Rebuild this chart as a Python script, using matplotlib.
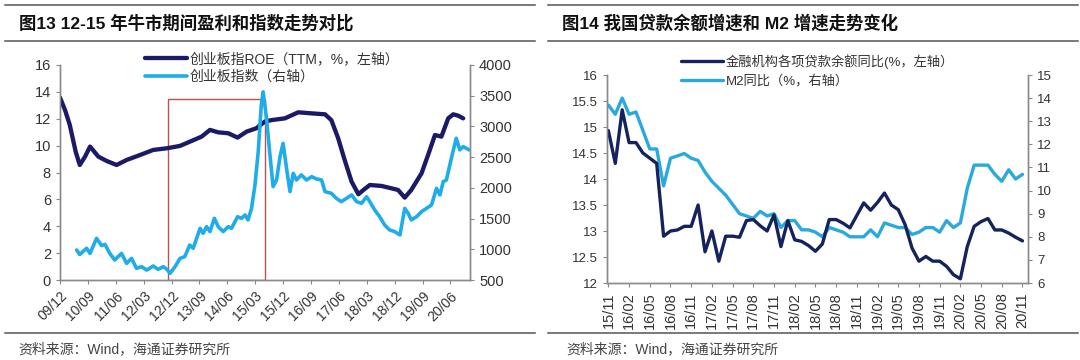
import matplotlib
matplotlib.use('Agg')
import matplotlib.pyplot as plt
from matplotlib.lines import Line2D
from matplotlib.patches import Rectangle
from matplotlib.ticker import FuncFormatter
import matplotlib.dates as mdates
import pandas as pd

plt.rcParams['font.family'] = ['Liberation Sans', 'Noto Sans CJK SC']

# ---------------- Left chart data ----------------
left_title = '图13 12-15 年牛市期间盈利和指数走势对比'
roe_label = '创业板指ROE（TTM，%，左轴）'
cyb_label = '创业板指数（右轴）'
roe_dates = ['2009-12-01', '2010-01-19', '2010-03-07', '2010-05-04', '2010-06-13', '2010-08-04',
             '2010-09-22', '2010-12-13', '2011-03-04', '2011-06-10', '2011-09-16', '2012-01-25',
             '2012-06-04', '2012-10-13', '2013-02-22', '2013-06-16', '2013-09-22', '2013-12-13',
             '2014-03-04', '2014-06-10', '2014-09-10', '2014-12-07', '2015-03-13', '2015-06-04',
             '2015-08-10', '2015-12-19', '2016-04-28', '2016-09-07', '2017-01-16', '2017-03-19',
             '2017-05-25', '2017-07-28', '2017-10-04', '2017-12-10', '2018-01-28', '2018-04-01',
             '2018-07-25', '2018-11-01', '2019-01-04', '2019-03-10', '2019-05-13', '2019-08-22',
             '2019-10-25', '2020-01-01', '2020-03-04', '2020-05-10', '2020-06-28', '2020-08-16',
             '2020-10-04']
roe_values = [13.57, 12.66, 11.54, 9.55, 8.56, 9.18, 9.93, 9.18, 8.86, 8.56, 8.93, 9.3,
              9.68, 9.8, 9.98, 10.35, 10.67, 11.17, 10.99, 10.92, 10.6, 11.04, 11.29, 11.79,
              11.9, 12.03, 12.48, 12.4, 12.33, 11.9, 10.55, 8.93, 7.32, 6.38, 6.7, 7.07,
              7.0, 6.82, 6.7, 6.13, 6.7, 7.94, 9.3, 10.79, 10.67, 12.03, 12.33, 12.23, 12.03]
cyb_dates = ['2010-05-13', '2010-06-13', '2010-08-19', '2010-09-22', '2010-11-25', '2011-01-13',
             '2011-02-16', '2011-04-04', '2011-05-22', '2011-07-28', '2011-09-16', '2011-11-04',
             '2011-12-22', '2012-02-10', '2012-04-01', '2012-06-04', '2012-07-22', '2012-09-10',
             '2012-10-13', '2012-11-16', '2013-01-04', '2013-02-22', '2013-04-10', '2013-05-28',
             '2013-07-01', '2013-09-07', '2013-10-07', '2013-11-10', '2013-12-13', '2014-01-25',
             '2014-03-04', '2014-04-22', '2014-06-10', '2014-07-13', '2014-09-10', '2014-10-19',
             '2014-11-22', '2014-12-22', '2015-01-25', '2015-02-28', '2015-04-01', '2015-05-01',
             '2015-05-19', '2015-06-22', '2015-07-22', '2015-08-25', '2015-09-28', '2015-11-01',
             '2015-12-01', '2016-01-04', '2016-02-07', '2016-03-10', '2016-04-10', '2016-05-28',
             '2016-07-19', '2016-09-07', '2016-10-25', '2016-12-13', '2017-01-16', '2017-03-19',
             '2017-05-07', '2017-06-25', '2017-08-16', '2017-10-04', '2017-11-22', '2018-01-10',
             '2018-02-28', '2018-04-01', '2018-05-19', '2018-07-07', '2018-08-25', '2018-10-13',
             '2018-12-01', '2019-01-22', '2019-03-10', '2019-04-13', '2019-05-13', '2019-07-04',
             '2019-08-22', '2019-10-10', '2019-11-28', '2020-01-16', '2020-02-19', '2020-03-22',
             '2020-04-22', '2020-06-10', '2020-07-28', '2020-09-01', '2020-10-04', '2020-11-04',
             '2020-12-01']
cyb_values = [988, 916, 1016, 933, 1178, 1060,
              1080, 933, 826, 933, 771, 852,
              690, 717, 662, 728, 673, 717,
              679, 609, 717, 852, 881, 1069,
              1016, 1342, 1259, 1368, 1288, 1504,
              1368, 1288, 1368, 1342, 1530, 1504,
              1559, 1478, 1666, 2047, 2589, 3350,
              3563, 3125, 2589, 2020, 2128, 2508,
              2725, 2318, 1939, 2237, 2128, 2211,
              2128, 2182, 2145, 2128, 1939, 1911,
              1830, 1775, 1830, 1885, 1775, 1749,
              1856, 1775, 1640, 1530, 1395, 1314,
              1288, 1233, 1666, 1585, 1478, 1530,
              1613, 1666, 1721, 1992, 1885, 2101,
              2128, 2482, 2808, 2618, 2672, 2644,
              2618]
left_tick_labels = ['09/12', '10/09', '11/06', '12/03', '12/12', '13/09', '14/06', '15/03',
                    '15/12', '16/09', '17/06', '18/03', '18/12', '19/09', '20/06']
box_start, box_end, box_top = '2012-10-22', '2015-06-10', 13.47

# ---------------- Right chart data ----------------
right_title = '图14 我国贷款余额增速和 M2 增速走势变化'
loan_label = '金融机构各项贷款余额同比(%，左轴）'
m2_label = 'M2同比（%，右轴）'
right_months = pd.period_range('2015-11', '2020-11', freq='M')
loan_values = [14.93, 14.30, 15.33, 14.70, 14.70, 14.50, 14.40, 14.30, 12.90, 13.00,
               13.02, 13.09, 13.09, 13.50, 12.60, 13.00, 12.42, 12.90, 12.90, 12.88,
               13.20, 13.22, 13.10, 13.00, 13.31, 12.70, 13.20, 12.83, 12.80, 12.72,
               12.61, 12.75, 13.22, 13.22, 13.15, 13.06, 13.30, 13.54, 13.40, 13.55,
               13.73, 13.50, 13.41, 13.12, 12.67, 12.42, 12.51, 12.42, 12.42, 12.32,
               12.16, 12.08, 12.70, 13.09, 13.18, 13.24, 13.02, 13.02, 12.96, 12.88,
               12.81]
m2_values = [13.7, 13.3, 14.0, 13.3, 13.4, 12.6, 11.8, 11.8, 10.2, 11.4,
             11.5, 11.6, 11.4, 11.3, 10.8, 10.4, 10.1, 9.8, 9.4, 9.0,
             8.9, 8.8, 9.1, 8.9, 9.0, 8.4, 8.7, 8.7, 8.3, 8.3,
             8.2, 8.0, 8.4, 8.3, 8.2, 8.0, 8.0, 8.0, 8.3, 8.0,
             8.6, 8.5, 8.4, 8.4, 8.1, 8.2, 8.4, 8.4, 8.2, 8.7,
             8.4, 8.6, 10.1, 11.1, 11.1, 11.1, 10.7, 10.4, 10.9, 10.5,
             10.7]
source_text = '资料来源：Wind，海通证券研究所'

# ---------------- Styles ----------------
W, H = 1080, 360
NAVY_L = '#1b1a66'
CYAN_L = '#1fadea'
NAVY_R = '#14235e'
CYAN_R = '#2aa9de'
SPINE = '#8a8a8a'
TXT = '#333333'

fig = plt.figure(figsize=(W / 100, H / 100), dpi=100)
fig.patch.set_facecolor('white')


def fx(px):
    return px / W


def fy(py):
    return 1 - py / H


# header / footer rules
for x0, x1 in [(5, 535), (548, 1078)]:
    for yy in (5, 41, 333):
        fig.add_artist(Line2D([fx(x0), fx(x1)], [fy(yy), fy(yy)], color='#555555', lw=1.1))

fig.text(fx(19), fy(23), left_title, fontsize=12.5, fontweight='bold', color='#111111', va='center', ha='left')
fig.text(fx(562), fy(23), right_title, fontsize=12.5, fontweight='bold', color='#111111', va='center', ha='left')
fig.text(fx(18), fy(349), source_text, fontsize=10, fontweight='light', color='#444444', va='center', ha='left')
fig.text(fx(566), fy(349), source_text, fontsize=10, fontweight='light', color='#444444', va='center', ha='left')


def style_axes(ax, ax2):
    for a in (ax, ax2):
        for s in a.spines.values():
            s.set_color(SPINE)
            s.set_linewidth(1.0)
        a.spines['top'].set_visible(False)
        a.tick_params(colors=SPINE, labelcolor=TXT, length=3, width=0.8, direction='out')


fmt_num = FuncFormatter(lambda v, p: ('%g' % v))

# ---------------- Left chart ----------------
axL = fig.add_axes([fx(60), fy(280), fx(470 - 60), (280 - 65) / H])
axL2 = axL.twinx()
style_axes(axL, axL2)

roe_x = pd.to_datetime(roe_dates)
cyb_x = pd.to_datetime(cyb_dates)
rect = Rectangle((mdates.date2num(pd.Timestamp(box_start)), 0),
                 mdates.date2num(pd.Timestamp(box_end)) - mdates.date2num(pd.Timestamp(box_start)),
                 box_top, fill=False, edgecolor='#c0504d', lw=1.0, zorder=1)
axL.add_patch(rect)
l1, = axL.plot(roe_x, roe_values, color=NAVY_L, lw=3.1, solid_capstyle='round', solid_joinstyle='round', zorder=3)
l2, = axL2.plot(cyb_x, cyb_values, color=CYAN_L, lw=2.6, solid_capstyle='round', solid_joinstyle='round', zorder=3)

axL.set_ylim(0, 16)
axL.set_yticks(range(0, 17, 2))
axL2.set_ylim(500, 4000)
axL2.set_yticks(range(500, 4001, 500))
axL.set_xlim(pd.Timestamp('2009-12-01'), pd.Timestamp('2020-12-10'))
tick_dates = [pd.Timestamp('20' + l[:2] + '-' + l[3:] + '-01') for l in left_tick_labels]
axL.set_xticks(tick_dates)
axL.set_xticklabels(left_tick_labels, rotation=45, ha='right', rotation_mode='anchor', fontsize=10)
for a in (axL, axL2):
    a.tick_params(axis='y', labelsize=10.5)

fig.legend([l1, l2], [roe_label, cyb_label], loc='upper left',
           bbox_to_anchor=(fx(145), fy(52)), frameon=False, fontsize=10,
           handlelength=3.0, handletextpad=0.2, labelspacing=0.25,
           borderaxespad=0, borderpad=0, labelcolor='#333333')

# ---------------- Right chart ----------------
axR = fig.add_axes([fx(607), fy(283), fx(1028 - 607), (283 - 75) / H])
axR2 = axR.twinx()
style_axes(axR, axR2)
xr = list(range(len(right_months)))
r2, = axR2.plot(xr, m2_values, color=CYAN_R, lw=2.4, solid_capstyle='round', solid_joinstyle='round')
r1, = axR.plot(xr, loan_values, color=NAVY_R, lw=2.4, solid_capstyle='round', solid_joinstyle='round')
axR.set_zorder(axR2.get_zorder() + 1)
axR.patch.set_visible(False)

axR.set_ylim(12, 16)
axR.set_yticks([12 + 0.5 * i for i in range(9)])
axR.yaxis.set_major_formatter(fmt_num)
axR2.set_ylim(6, 15)
axR2.set_yticks(range(6, 16))
axR.set_xlim(-0.2, 60.8)
rt = xr[::3]
axR.set_xticks(rt)
axR.set_xticklabels([right_months[i].strftime('%y/%m') for i in rt], rotation=90, fontsize=10.5)
for a in (axR, axR2):
    a.tick_params(axis='y', labelsize=9.5)

fig.legend([r1, r2], [loan_label, m2_label], loc='upper left',
           bbox_to_anchor=(fx(681), fy(54)), frameon=False, fontsize=9.5,
           handlelength=3.2, handletextpad=0.2, labelspacing=0.45,
           borderaxespad=0, borderpad=0, labelcolor='#333333')

fig.savefig('out.png', dpi=100, facecolor='white')
